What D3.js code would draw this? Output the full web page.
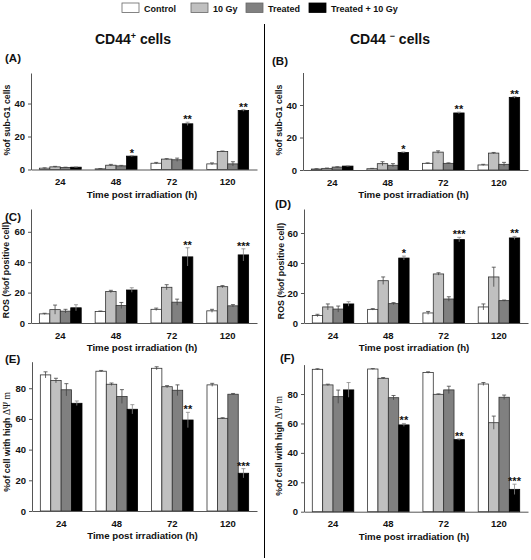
<!DOCTYPE html>
<html><head><meta charset="utf-8">
<script src="https://cdn.jsdelivr.net/npm/d3@7"></script>
<style>
body{margin:0;background:#fff}
svg{display:block}
text{font-family:"Liberation Sans",Arial,sans-serif;font-weight:bold;fill:#111}
</style>
</head><body>
<svg id="chart" width="531" height="560"></svg>
<script>
// ---------- DATA ----------
const times = ["24", "48", "72", "120"];
const seriesNames = ["Control", "10 Gy", "Treated", "Treated + 10 Gy"];

// (A) % sub-G1, CD44+  [series][time]
const subG1PosValues = [[0.8, 0.4, 3.8, 3.4], [1.6, 2.6, 6.3, 10.9], [1.2, 2.2, 5.9, 3.4], [1.4, 8.1, 27.7, 35.8]];
const subG1PosErrors = [[0.2, 0.2, 0.5, 0.6], [0.3, 0.5, 0.3, 0.3], [0.2, 0.3, 1.0, 1.3], [0.2, 0.3, 1.0, 0.5]];
const subG1PosStars = ["", "*", "**", "**"];

// (B) % sub-G1, CD44-
const subG1NegValues = [[0.6, 0.8, 4.1, 3.1], [1.0, 3.9, 11.0, 10.4], [1.8, 2.9, 4.1, 3.5], [2.4, 10.8, 35.1, 44.7]];
const subG1NegErrors = [[0.2, 0.2, 0.3, 0.4], [0.2, 1.2, 0.8, 0.4], [0.2, 1.0, 0.3, 1.2], [0.2, 0.3, 0.5, 0.5]];
const subG1NegStars = ["", "*", "**", "**"];

// (C) ROS, CD44+
const rosPosValues = [[6.0, 7.6, 9.0, 8.0], [8.8, 20.7, 23.5, 23.9], [7.8, 11.5, 13.7, 11.3], [10.0, 21.7, 43.5, 44.8]];
const rosPosErrors = [[0.4, 0.3, 0.8, 1.0], [3.0, 0.8, 1.7, 0.7], [1.2, 2.0, 2.0, 0.8], [2.0, 1.5, 6.0, 4.0]];
const rosPosStars = ["", "", "**", "***"];

// (D) ROS, CD44-
const rosNegValues = [[5.0, 9.1, 6.7, 10.7], [10.7, 28.2, 32.7, 30.7], [9.3, 12.9, 16.0, 14.9], [12.7, 43.3, 55.6, 56.7]];
const rosNegErrors = [[0.8, 0.5, 1.0, 2.0], [2.0, 2.5, 0.8, 6.5], [2.0, 0.7, 1.5, 0.4], [1.5, 1.3, 1.5, 1.0]];
const rosNegStars = ["", "*", "***", "**"];

// (E) % cells with high ΔΨm, CD44+
const mmpPosValues = [[88.7, 91.1, 93.0, 82.2], [85.0, 82.6, 81.0, 60.4], [79.0, 74.6, 78.7, 76.1], [70.2, 66.3, 59.3, 24.6]];
const mmpPosErrors = [[2.0, 0.5, 1.0, 1.0], [1.5, 0.8, 0.7, 0.4], [4.0, 4.5, 3.5, 0.5], [1.5, 3.0, 5.0, 3.0]];
const mmpPosStars = ["", "", "**", "***"];

// (F) % cells with high ΔΨm, CD44-
const mmpNegValues = [[96.8, 97.0, 94.6, 86.8], [86.2, 90.7, 79.8, 60.5], [78.2, 77.5, 82.8, 77.8], [82.8, 59.0, 49.0, 15.2]];
const mmpNegErrors = [[0.4, 0.3, 0.5, 1.0], [0.5, 0.5, 0.3, 4.5], [4.5, 1.5, 2.5, 1.5], [5.0, 1.0, 0.5, 3.5]];
const mmpNegStars = ["", "**", "**", "***"];

const subG1Ticks = [0, 20, 40];
const rosTicks = [0, 20, 40, 60];
const mmpTicks = [0, 20, 40, 60, 80];

const xTitle = "Time post irradiation (h)";
const labelSubG1 = "%of sub-G1 cells";
const labelROS = "ROS (%of positive cell)";
const labelMMP = "%of cell with high ";
const labelMMPsym = "ΔΨ m";

// ---------- LAYOUT ----------
const colors = ["#ffffff", "#c0c0c0", "#808080", "#000000"];
const svg = d3.select("#chart");

const panels = [
  {letter: "(A)", lx: 5, ly: 62, values: subG1PosValues, errors: subG1PosErrors, stars: subG1PosStars, ticks: subG1Ticks,
   xr: [31, 257], yr: [169.5, 73], max: 58.5, label: labelSubG1, labX: 9.5, labY: 120},
  {letter: "(B)", lx: 272, ly: 65, values: subG1NegValues, errors: subG1NegErrors, stars: subG1NegStars, ticks: subG1Ticks,
   xr: [303, 528], yr: [170, 72.5], max: 60, label: labelSubG1, labX: 281.5, labY: 120},
  {letter: "(C)", lx: 5, ly: 221, values: rosPosValues, errors: rosPosErrors, stars: rosPosStars, ticks: rosTicks,
   xr: [31, 257], yr: [323, 209], max: 75, label: labelROS, labX: 8.5, labY: 270},
  {letter: "(D)", lx: 275, ly: 207.5, values: rosNegValues, errors: rosNegErrors, stars: rosNegStars, ticks: rosTicks,
   xr: [304, 528], yr: [323, 209], max: 76, label: labelROS, labX: 283.5, labY: 271},
  {letter: "(E)", lx: 5, ly: 363, values: mmpPosValues, errors: mmpPosErrors, stars: mmpPosStars, ticks: mmpTicks,
   xr: [32, 257], yr: [511, 361.7], max: 97.3, label: labelMMP, sym: labelMMPsym, labX: 9.5, labY: 442},
  {letter: "(F)", lx: 280, ly: 362, values: mmpNegValues, errors: mmpNegErrors, stars: mmpNegStars, ticks: mmpTicks,
   xr: [304, 528], yr: [511.7, 364.6], max: 100, label: labelMMP, sym: labelMMPsym, labX: 281.5, labY: 446}
];

function drawPanel(p) {
  const g = svg.append("g");
  const x = d3.scaleBand().domain(times).range(p.xr).paddingInner(0.25).paddingOuter(0.15);
  const xs = d3.scaleBand().domain(d3.range(seriesNames.length)).range([0, x.bandwidth()]);
  const y = d3.scaleLinear().domain([0, p.max]).range(p.yr);

  const rows = times.flatMap((t, ti) => seriesNames.map((s, si) => ({
    t, si, v: p.values[si][ti], e: p.errors[si][ti]
  })));

  // error bars (drawn first so the lower half hides in dark bars; visible on white)
  const eb = g.append("g").attr("stroke", "#444").attr("stroke-width", 0.8);
  // bars
  g.append("g").selectAll("rect").data(rows).join("rect")
    .attr("x", d => x(d.t) + xs(d.si))
    .attr("y", d => y(d.v))
    .attr("width", xs.bandwidth())
    .attr("height", d => y(0) - y(d.v))
    .attr("fill", d => colors[d.si])
    .attr("stroke", d => d.si === 3 ? "#000" : "#333")
    .attr("stroke-width", 0.8);

  const eg = g.append("g").attr("stroke", "#444").attr("stroke-width", 0.8);
  rows.forEach(d => {
    const cx = x(d.t) + xs(d.si) + xs.bandwidth() / 2;
    const top = y(d.v + d.e), bot = y(Math.max(0, d.v - d.e));
    eg.append("line").attr("x1", cx).attr("x2", cx).attr("y1", top).attr("y2", bot)
      .attr("stroke", d.si === 3 ? "#888" : "#444");
    eg.append("line").attr("x1", cx - 2).attr("x2", cx + 2).attr("y1", top).attr("y2", top)
      .attr("stroke", d.si === 3 ? "#888" : "#444");
  });

  // significance stars above the Treated + 10 Gy bars
  g.append("g").selectAll("text").data(times).join("text")
    .attr("x", t => x(t) + xs(3) + xs.bandwidth() / 2)
    .attr("y", (t, ti) => y(p.values[3][ti] + p.errors[3][ti]) + 1)
    .attr("text-anchor", "middle")
    .style("font-size", "11px")
    .text((t, ti) => p.stars[ti]);

  // axes
  const xa = g.append("g").attr("transform", `translate(0,${p.yr[0]})`)
    .call(d3.axisBottom(x).tickSize(0).tickPadding(9));
  const ya = g.append("g").attr("transform", `translate(${p.xr[0]},0)`)
    .call(d3.axisLeft(y).tickValues(p.ticks).tickSize(3).tickSizeOuter(0).tickPadding(3).tickFormat(d3.format("d")));
  [xa, ya].forEach(a => {
    a.select(".domain").attr("stroke", "#555");
    a.selectAll(".tick line").attr("stroke", "#555");
    a.selectAll("text").style("font-size", "9.5px").style("font-family", "'Liberation Sans',Arial,sans-serif").attr("fill", "#111");
  });

  // x title
  g.append("text").attr("x", (p.xr[0] + p.xr[1]) / 2 - 2).attr("y", p.yr[0] + 28)
    .attr("text-anchor", "middle").style("font-size", "9.7px").text(xTitle);

  // y title
  const yl = g.append("text")
    .attr("transform", `translate(${p.labX},${p.labY}) rotate(-90)`)
    .attr("text-anchor", "middle").style("font-size", "8.8px");
  yl.append("tspan").text(p.label);
  if (p.sym) {
    yl.append("tspan").style("font-family", "'Liberation Serif','DejaVu Serif',serif")
      .style("font-weight", "normal").style("font-size", "9.5px").text(" " + p.sym);
  }

  // panel letter
  g.append("text").attr("x", p.lx).attr("y", p.ly).style("font-size", "11.5px").text(p.letter);
}

panels.forEach(drawPanel);

// column titles
function title(cx, sup, gap) {
  const t = svg.append("text").attr("x", cx).attr("y", 43.5).attr("text-anchor", "middle").style("font-size", "14px");
  t.append("tspan").text("CD44" + gap);
  t.append("tspan").attr("dy", -5).style("font-size", "9px").text(sup);
  t.append("tspan").attr("dy", 5).text(" cells");
}
title(133, "+", "");
title(390, "\u2212", " ");

// divider
svg.append("line").attr("x1", 264.5).attr("x2", 264.5).attr("y1", 24).attr("y2", 558)
  .attr("stroke", "#000").attr("stroke-width", 1);

// legend
const legX = [122, 191, 246, 309];
const leg = svg.append("g").selectAll("g").data(seriesNames).join("g")
  .attr("transform", (d, i) => `translate(${legX[i]},3)`);
leg.append("rect").attr("width", 17).attr("height", 9.5)
  .attr("fill", (d, i) => colors[i]).attr("stroke", (d, i) => i === 3 ? "#000" : "#666").attr("stroke-width", 0.8);
leg.append("text").attr("x", 22).attr("y", 8.5).style("font-size", "9px").text(d => d);
</script>
</body></html>
